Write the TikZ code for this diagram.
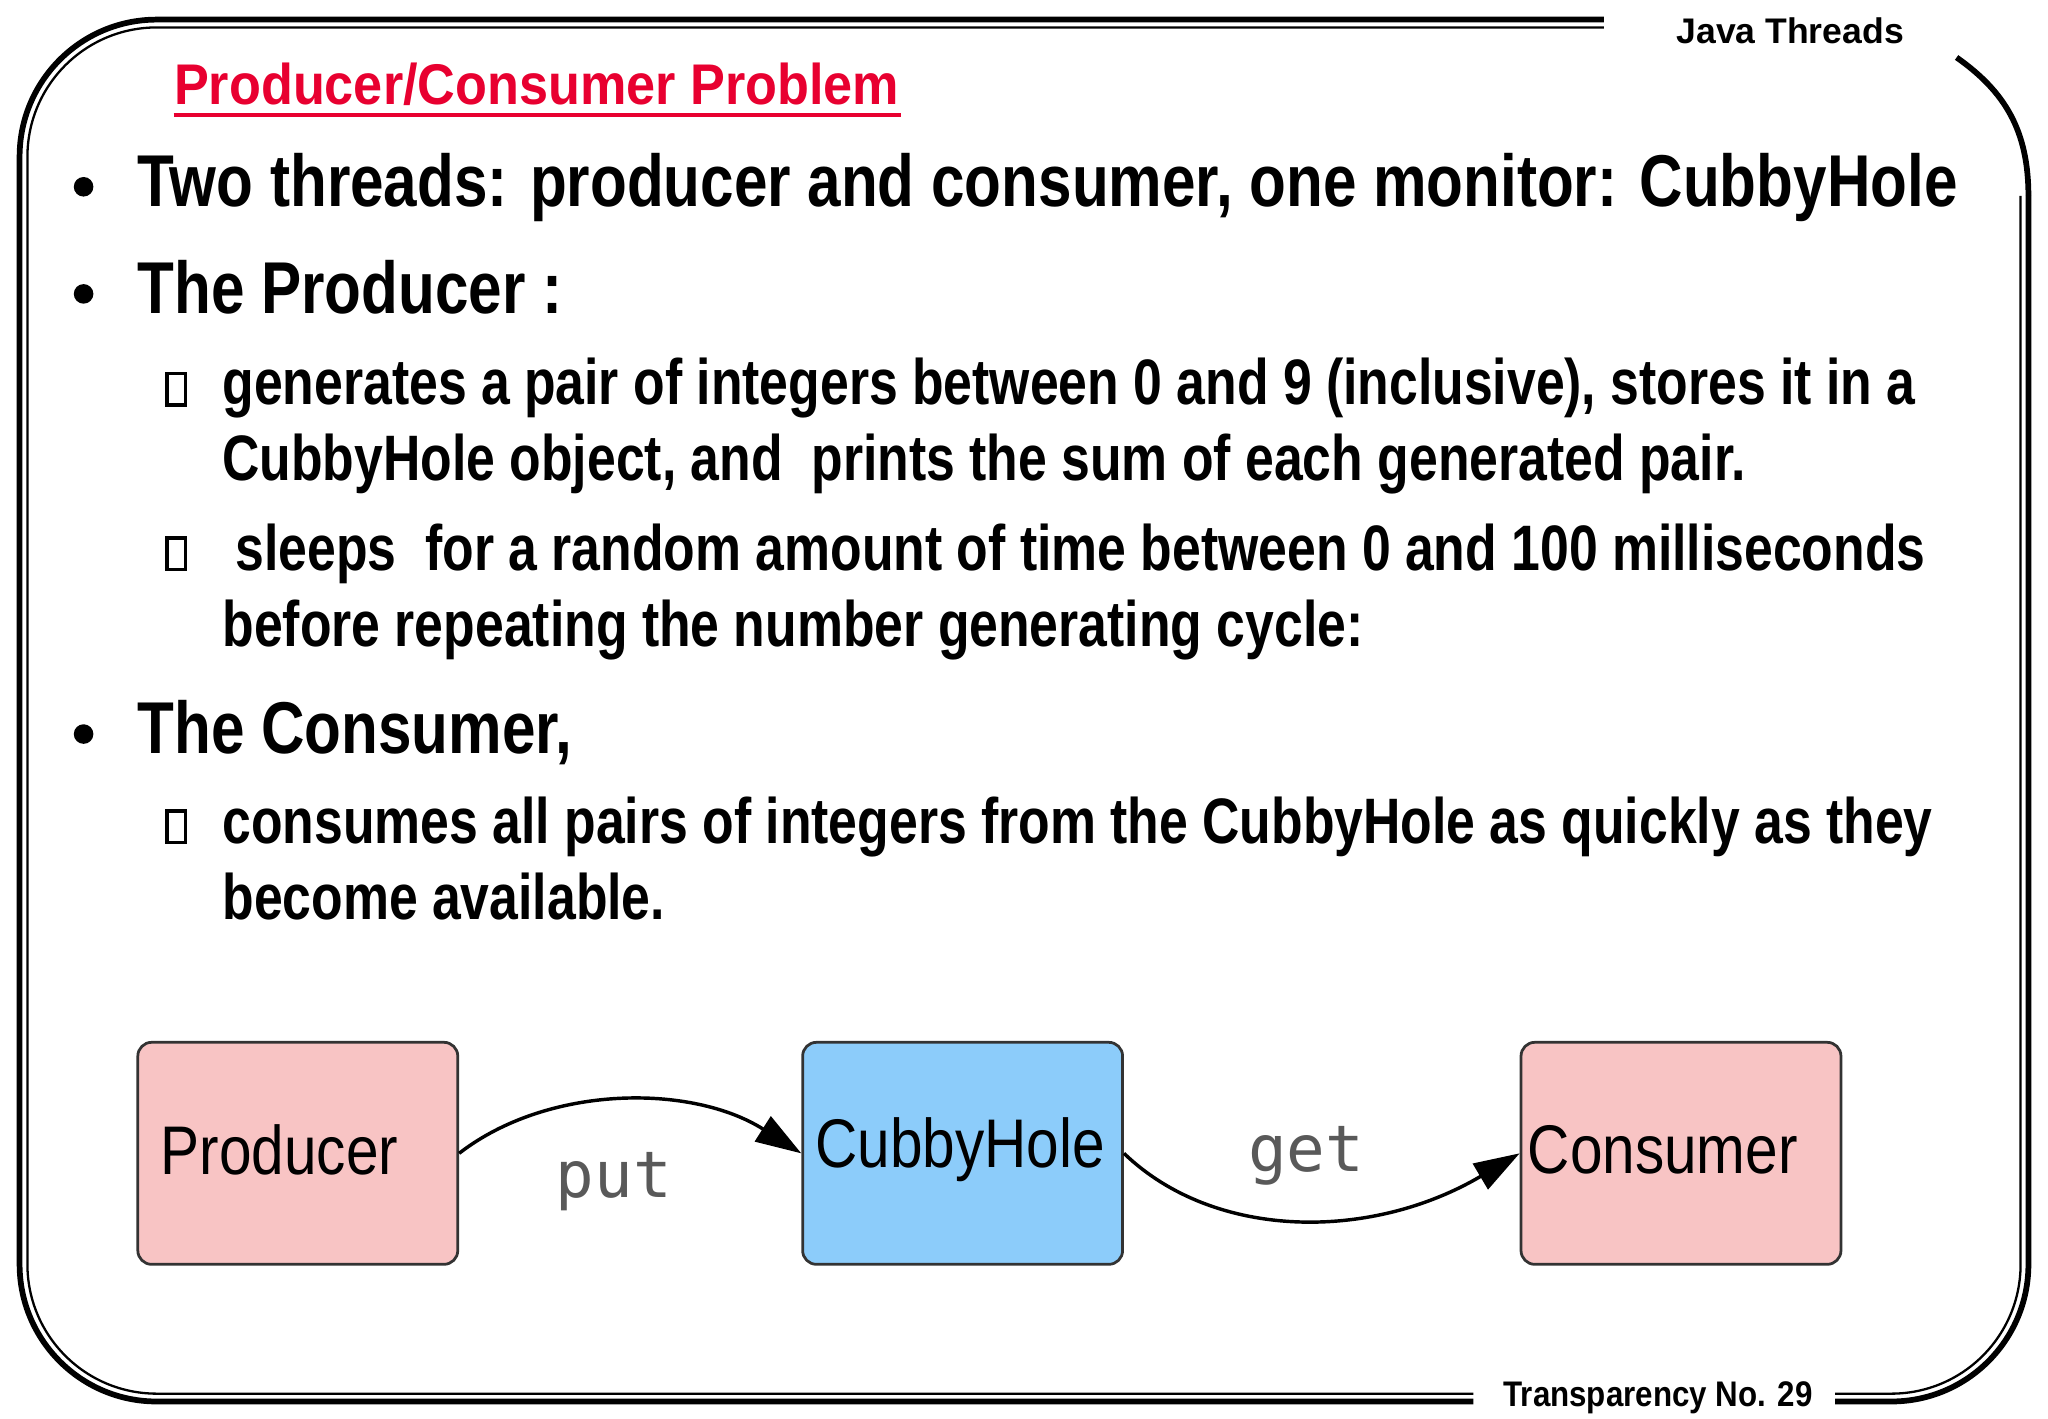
\documentclass[tikz,border=0pt]{standalone}
\usepackage{fontspec}
\setmainfont{Liberation Sans}
\setmonofont{DejaVu Sans Mono}
\usetikzlibrary{arrows.meta}
\definecolor{pinkbox}{RGB}{248,196,196}
\definecolor{bluebox}{RGB}{140,204,250}
\definecolor{titlered}{RGB}{232,0,48}
\tikzset{
 body/.style={anchor=base west,inner sep=0,xscale=0.82,font=\fontsize{32}{36}\selectfont\bfseries},
 sub/.style={anchor=base west,inner sep=0,xscale=0.805,font=\fontsize{28}{32}\selectfont\bfseries},
 missing/.style={draw,line width=1.5pt,minimum width=0.28cm,minimum height=0.48cm,inner sep=0},
 dot/.style={fill,circle,minimum size=0.3cm,inner sep=0},
 box/.style={draw=black!80,line width=1.2pt,rounded corners=6pt,minimum width=4.9cm,minimum height=3.4cm},
 boxlab/.style={font=\fontsize{30}{32}\selectfont,xscale=0.85},
 edgelab/.style={font=\ttfamily\fontsize{28}{30}\selectfont,text=black!65},
 conn/.style={line width=1.5pt,-{Triangle[length=0.7cm,width=0.45cm]}},
 hdr/.style={anchor=base east,inner sep=0,font=\fontsize{15.5}{18}\selectfont\bfseries},
}
\begin{document}
\begin{tikzpicture}[x=0.02cm,y=-0.02cm]
\useasboundingbox (0,0) rectangle (1568,1086);
\fill[white] (0,0) rectangle (1568,1086);
% frame
\draw[line width=2.5pt,rounded corners=2.1cm] (1228,15) -- (15,15) -- (15,1073) -- (1128,1073);
\draw[line width=1pt,rounded corners=1.98cm] (1228,21) -- (21,21) -- (21,1067) -- (1128,1067);
\draw[line width=2.5pt] (1498,44) .. controls (1535,70) and (1553,100) .. (1553,150);
\draw[line width=2.5pt,rounded corners=2.1cm] (1553,150) -- (1553,1073) -- (1405,1073);
\draw[line width=1pt,rounded corners=1.98cm] (1405,1067) -- (1547,1067) -- (1547,150);
\node[hdr] (jt) at (1458,33) {Java Threads};
\node[hdr,xscale=0.88] (tn) at (1388,1077) {Transparency No. 29};
% title
\node[anchor=base west,inner sep=0,xscale=0.91,text=titlered,font=\fontsize{25}{28}\selectfont\bfseries] (title) at (133,80) {Producer/Consumer Problem};
\draw[titlered,line width=1.5pt] (133,88) -- (690,88);
% text
\node[dot] (b1) at (64,143) {};
\node[body] (l1) at (105,158) {Two threads: producer and consumer, one monitor: CubbyHole};
\node[dot] (b2) at (64,225) {};
\node[body] (l2) at (105,240) {The Producer :};
\node[missing] (m1) at (135,298) {};
\node[sub] (l3) at (170,310) {generates a pair of integers between 0 and 9 (inclusive), stores it in a};
\node[sub] (l4) at (170,368) {CubbyHole object, and\ \ prints the sum of each generated pair.};
\node[missing] (m2) at (135,424) {};
\node[sub] (l5) at (180,437) {sleeps\ \ for a random amount of time between 0 and 100 milliseconds};
\node[sub] (l6) at (170,495) {before repeating the number generating cycle:};
\node[dot] (b3) at (64,562) {};
\node[body] (l7) at (105,577) {The Consumer,};
\node[missing] (m3) at (135,633) {};
\node[sub] (l8) at (170,646) {consumes all pairs of integers from the CubbyHole as quickly as they};
\node[sub] (l9) at (170,704) {become available.};
% diagram
\node[box,fill=pinkbox] (prod) at (228,883) {};
\node[boxlab] at (214,880) {Producer};
\node[box,fill=bluebox] (cub) at (737,883) {};
\node[boxlab] at (735,880) {CubbyHole};
\node[box,fill=pinkbox] (cons) at (1287,883) {};
\node[boxlab] at (1273,880) {Consumer};
\draw[conn] (prod.east) .. controls (420,830) and (530,830) .. (cub.west);
\draw[conn] (cub.east) .. controls (930,950) and (1050,950) .. (cons.west);
\node[edgelab] (put) at (470,905) {put};
\node[edgelab] (get) at (1000,885) {get};
\end{tikzpicture}
\end{document}
